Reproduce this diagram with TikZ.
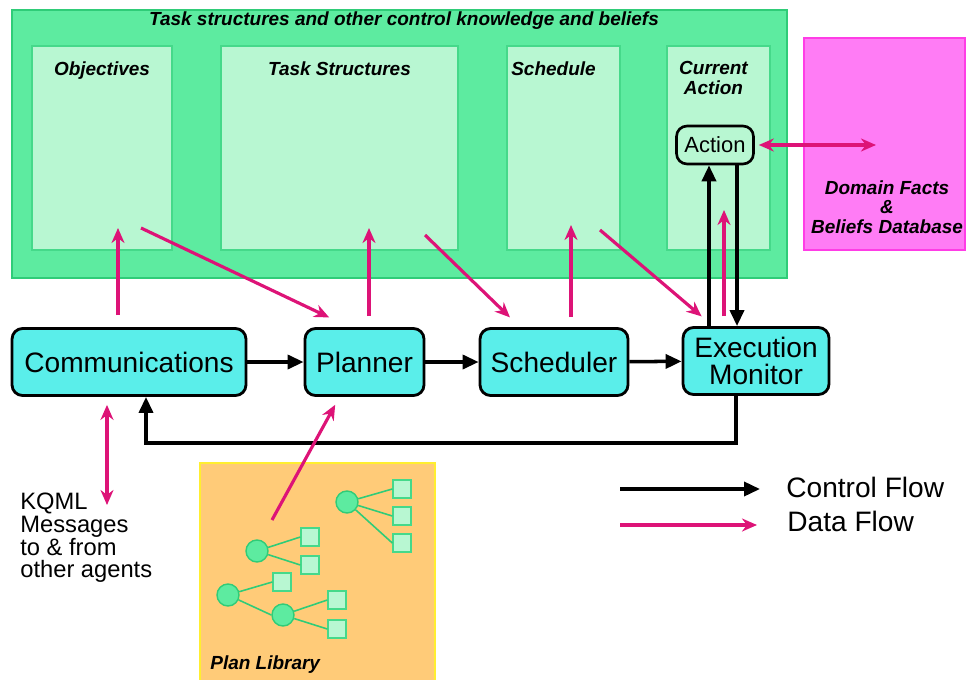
\documentclass[tikz,border=0pt]{standalone}
\usepackage{fontspec}
\setmainfont{Liberation Sans}
\usetikzlibrary{arrows.meta,positioning,calc}
\definecolor{KnowGreen} {HTML}{5DEBA0}
\definecolor{KnowEdge}  {HTML}{2FCC78}
\definecolor{PaleGreen} {HTML}{B8F7D2}
\definecolor{PaleEdge}  {HTML}{45D98A}
\definecolor{FactPink}  {HTML}{FF7CF5}
\definecolor{FactEdge}  {HTML}{FF3DE6}
\definecolor{ModCyan}   {HTML}{5AEEEA}
\definecolor{LibOrange} {HTML}{FFCB78}
\definecolor{LibEdge}   {HTML}{FFEE30}
\definecolor{DataPink}  {HTML}{DD1377}
\tikzset{
  kbox/.style={rectangle,draw=PaleEdge,fill=PaleGreen,line width=1pt,
               minimum height=4.08cm},
  mbox/.style={rectangle,rounded corners=6pt,draw=black,fill=ModCyan,
               line width=1.6pt,minimum height=1.34cm,align=center,
               font=\fontsize{16}{15.5}\selectfont},
  ilbl/.style={font=\fontsize{10.8}{11}\selectfont\bfseries\itshape,
               align=center,inner sep=0pt},
  ctrl/.style={-{Triangle[length=0.32cm,width=0.28cm]},line width=2pt,color=black},
  data/.style={-{Stealth[length=0.3cm,width=0.26cm]},line width=1.8pt,color=DataPink},
  data2/.style={{Stealth[length=0.3cm,width=0.26cm]}-{Stealth[length=0.3cm,width=0.26cm]},
                line width=1.8pt,color=DataPink},
  root/.style={circle,draw=KnowEdge,fill=KnowGreen,line width=0.8pt,
               minimum size=0.44cm,inner sep=0pt},
  leaf/.style={rectangle,draw=PaleEdge,fill=PaleGreen,line width=0.8pt,
               minimum size=0.36cm,inner sep=0pt},
  twig/.style={draw=KnowEdge,line width=0.9pt},
}

\begin{document}
\begin{tikzpicture}[x=0.02cm,y=-0.02cm]
  \useasboundingbox (0,0) rectangle (966,679);

  % knowledge area
  \node[rectangle,draw=KnowEdge,fill=KnowGreen,line width=1pt,
        minimum width=15.5cm,minimum height=5.36cm] (know) at (399.5,144) {};
  \node[ilbl] (knowlbl) at (404,21)
    {Task structures and other control knowledge and beliefs};

  \node[kbox,minimum width=2.8cm]  (obj)   at (102,148)   {};
  \node[kbox,minimum width=4.74cm] (tstr)  at (339.5,148) {};
  \node[kbox,minimum width=2.26cm] (sched) at (563.5,148) {};
  \node[kbox,minimum width=2.06cm] (cur)   at (718.5,148) {};

  \node[ilbl,anchor=north] at ([yshift=-0.32cm]obj.north)   {Objectives};
  \node[ilbl,anchor=north] at ([yshift=-0.32cm]tstr.north)  {Task Structures};
  \node[ilbl,anchor=north] at ([xshift=-0.2cm,yshift=-0.32cm]sched.north) {Schedule};
  \node[ilbl,anchor=north] at ([xshift=-0.1cm,yshift=-0.32cm]cur.north)
    {Current\\Action};

  \node[rectangle,rounded corners=6pt,draw=black,fill=PaleGreen,line width=1.5pt,
        minimum width=1.54cm,minimum height=0.76cm,
        font=\fontsize{12.5}{13}\selectfont] (act) at (715,145) {Action};

  % domain facts
  \node[rectangle,draw=FactEdge,fill=FactPink,line width=1pt,
        minimum width=3.22cm,minimum height=4.24cm] (facts) at (884.5,144) {};
  \node[ilbl] (factlbl) at (887,207) {Domain Facts\\\&\\Beliefs Database};

  % modules
  \node[mbox,minimum width=4.68cm] (comm)    at (129,362)   {Communications};
  \node[mbox,minimum width=2.38cm] (planner) at (364.5,362) {Planner};
  \node[mbox,minimum width=2.96cm] (schedr)  at (554,362)   {Scheduler};
  \node[mbox,minimum width=2.92cm] (exec)    at (756,361)   {Execution\\Monitor};

  % plan library
  \node[rectangle,draw=LibEdge,fill=LibOrange,line width=1pt,
        minimum width=4.7cm,minimum height=4.6cm] (lib) at (317.5,578) {};
  \node[ilbl,anchor=west] (liblbl) at (210,665) {Plan Library};

  \node[root] (ra)  at (347,502) {};
  \node[leaf] (ra1) at (402,489) {};
  \node[leaf] (ra2) at (402,516) {};
  \node[leaf] (ra3) at (402,543) {};
  \node[root] (rb)  at (257,551) {};
  \node[leaf] (rb1) at (310,537) {};
  \node[leaf] (rb2) at (310,565) {};
  \node[root] (rc)  at (228,595) {};
  \node[leaf] (rc1) at (282,582) {};
  \node[root] (rd)  at (283,615) {};
  \node[leaf] (rd1) at (337,600) {};
  \node[leaf] (rd2) at (337,629) {};
  \foreach \p/\c in {ra/ra1,ra/ra2,ra/ra3,rb/rb1,rb/rb2,rc/rc1,rc/rd,rd/rd1,rd/rd2}
    \draw[twig] (\p) -- (\c.west);

  % KQML text
  \node[anchor=north west,align=left,inner sep=0pt,
        font=\fontsize{13.5}{12.9}\selectfont] (kqml) at (20,493)
    {KQML\\Messages\\to \& from\\other agents};

  % control flow
  \draw[ctrl] (comm) -- (planner);
  \draw[ctrl] (planner) -- (schedr);
  \draw[ctrl] (schedr) -- (exec);
  \coordinate (fbR) at (736,443);
  \coordinate (fbL) at (146,443);
  \draw[ctrl] (exec.south -| fbR) -- (fbR) -- (fbL) -- (comm.south -| fbL);
  \coordinate (upX) at (709,0);
  \coordinate (dnX) at (737,0);
  \draw[ctrl] (exec.north -| upX) -- (act.south -| upX);
  \draw[ctrl] (act.south -| dnX) -- (exec.north -| dnX);

  % data flow
  \coordinate (objIn)  at (118,228);
  \coordinate (objOut) at (141,228);
  \coordinate (tsIn)   at (369,228);
  \coordinate (tsOut)  at (425,235);
  \coordinate (scIn)   at (571,225);
  \coordinate (scOut)  at (600,230);
  \coordinate (caIn)   at (724,210);
  \coordinate (dbIn)   at (876,145);
  \coordinate (kqEnd)  at (107,505);
  \coordinate (libOut) at (272,520);
  \draw[data,shorten <=0.24cm] (comm.north -| objIn) -- (objIn);
  \draw[data,shorten >=0.45cm] (objOut) -- ([xshift=-0.3cm]planner.north);
  \draw[data,shorten <=0.22cm] (planner.north -| tsIn) -- (tsIn);
  \draw[data,shorten >=0.28cm] (tsOut) -- ([xshift=-0.68cm]schedr.north);
  \draw[data,shorten <=0.2cm] (schedr.north -| scIn) -- (scIn);
  \draw[data,shorten >=0.3cm] (scOut) -- ([xshift=-0.86cm]exec.north);
  \draw[data,shorten <=0.2cm] (exec.north -| caIn) -- (caIn);
  \draw[data2,shorten <=0.08cm] (act.east) -- (dbIn);
  \draw[data2,shorten <=0.16cm] (comm.south -| kqEnd) -- (kqEnd);
  \draw[data,shorten >=0.18cm] (libOut) -- ([xshift=-0.5cm]planner.south);

  % legend
  \coordinate (ctrlA) at (620,489);
  \coordinate (ctrlB) at (760,489);
  \coordinate (dataA) at (620,525);
  \coordinate (dataB) at (757,525);
  \draw[ctrl] (ctrlA) -- (ctrlB);
  \draw[data] (dataA) -- (dataB);
  \node[anchor=west,inner sep=0pt,font=\fontsize{16}{16}\selectfont] (ctrllbl)
    at (786,487) {Control Flow};
  \node[anchor=west,inner sep=0pt,font=\fontsize{16}{16}\selectfont] (datalbl)
    at (787,521) {Data Flow};

\end{tikzpicture}
\end{document}
